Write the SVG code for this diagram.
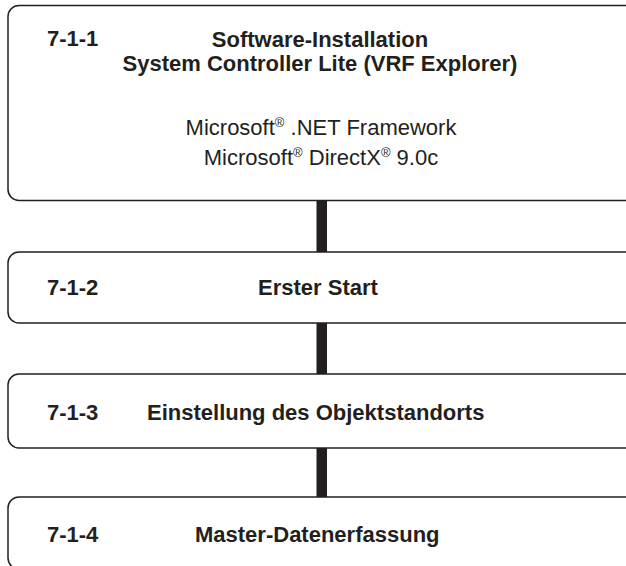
<svg xmlns="http://www.w3.org/2000/svg" width="626" height="566" viewBox="0 0 626 566">
<style>
.box{fill:#fff;stroke:#231f20;stroke-width:1.5}
.b{font-family:"Liberation Sans",Arial,sans-serif;font-weight:bold;font-size:22px;fill:#231f20}
.r{font-family:"Liberation Sans",Arial,sans-serif;font-size:22px;fill:#231f20}
.sup{font-size:13px}
.conn{fill:#231f20}
</style>
<rect width="626" height="566" fill="#fff"/>
<g id="connectors">
<rect class="conn" x="316.5" y="200" width="10.5" height="52"/>
<rect class="conn" x="316.5" y="323" width="10.5" height="51"/>
<rect class="conn" x="316.5" y="448" width="10.5" height="49"/>
</g>
<g id="node-7-1-1">
<rect class="box" x="8" y="5.5" width="640" height="195" rx="11"/>
<text class="b" x="47" y="46">7-1-1</text>
<text class="b" x="320" y="47" text-anchor="middle">Software-Installation</text>
<text class="b" x="320" y="71" text-anchor="middle">System Controller Lite (VRF Explorer)</text>
<text class="r" x="321" y="135" text-anchor="middle">Microsoft<tspan class="sup" dy="-8">®</tspan><tspan dy="8"> .NET Framework</tspan></text>
<text class="r" x="321" y="165" text-anchor="middle">Microsoft<tspan class="sup" dy="-8">®</tspan><tspan dy="8"> DirectX</tspan><tspan class="sup" dy="-8">®</tspan><tspan dy="8"> 9.0c</tspan></text>
</g>
<g id="node-7-1-2">
<rect class="box" x="8" y="252" width="640" height="71" rx="11"/>
<text class="b" x="47" y="295">7-1-2</text>
<text class="b" x="258" y="295">Erster Start</text>
</g>
<g id="node-7-1-3">
<rect class="box" x="8" y="374" width="640" height="74" rx="11"/>
<text class="b" x="47" y="420">7-1-3</text>
<text class="b" x="147" y="420">Einstellung des Objektstandorts</text>
</g>
<g id="node-7-1-4">
<rect class="box" x="8" y="497" width="640" height="72" rx="11"/>
<text class="b" x="47" y="542">7-1-4</text>
<text class="b" x="195" y="542">Master-Datenerfassung</text>
</g>
</svg>
